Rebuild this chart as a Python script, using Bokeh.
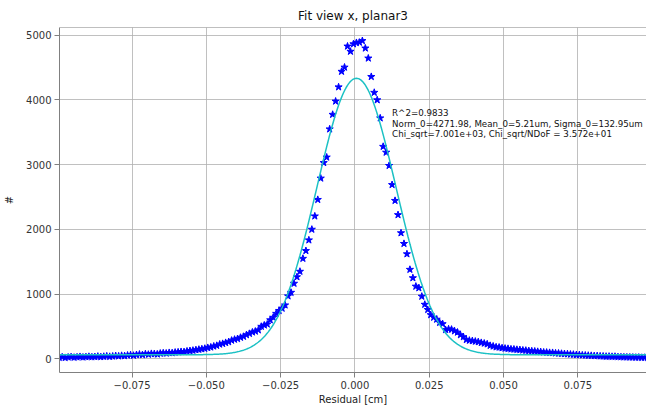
import numpy as np
from bokeh.plotting import figure
from bokeh.models import Range1d, FixedTicker, Label, Span
from bokeh.embed import file_html
from bokeh.resources import INLINE

# ---- data ----
bin_low = -0.1          # cm, first bin edge
bin_width = 0.001       # cm
counts_left = [20, 28, 18, 25, 30, 22, 27, 33, 25, 30,
               35, 28, 32, 38, 30, 36, 42, 35, 40, 47,
               42, 50, 46, 55, 60, 52, 63, 70, 62, 75,
               68, 80, 77, 72, 85, 90, 86, 95, 92, 100,
               104, 110, 108, 118, 125, 130, 138, 145, 152, 160,
               172, 180, 195, 205, 225, 235, 250, 262, 285, 300,
               310, 330, 345, 370, 390, 412, 425, 445, 500, 520,
               535, 600, 640, 700, 745, 780, 830, 970, 1025, 1165,
               1265, 1350, 1550, 1670, 1835, 2000, 2205, 2460, 2790, 3030,
               3115, 3550, 3775, 3980, 4200, 4440, 4505, 4830, 4750, 4865]
counts_right = [4885, 4890, 4915, 4800, 4645, 4360, 4115, 4000, 3720, 3280,
                3190, 2985, 2690, 2445, 2225, 1945, 1780, 1620, 1380, 1250,
                1120, 1095, 965, 840, 760, 680, 640, 610, 560, 540,
                450, 460, 455, 430, 410, 370, 340, 295, 285, 278,
                270, 262, 250, 240, 228, 205, 195, 182, 178, 168,
                162, 158, 150, 148, 143, 140, 133, 130, 124, 120,
                117, 112, 108, 102, 100, 96, 95, 88, 86, 82,
                78, 75, 70, 68, 63, 62, 57, 55, 52, 50,
                46, 46, 42, 40, 37, 38, 35, 36, 30, 28,
                27, 26, 25, 24, 22, 23, 20, 21, 18, 19]
counts = counts_left + counts_right

fit_norm = 4271.98
fit_mean_um = 5.21
fit_sigma_um = 132.95
fit_const = 63.0

x_ticks = [-0.075, -0.050, -0.025, 0.0, 0.025, 0.050, 0.075]
x_tick_labels = ["\u22120.075", "\u22120.050", "\u22120.025", "0.000", "0.025", "0.050", "0.075"]
y_ticks = [0, 1000, 2000, 3000, 4000, 5000]

info_lines = ["R^2=0.9833",
              "Norm_0=4271.98, Mean_0=5.21um, Sigma_0=132.95um",
              "Chi_sqrt=7.001e+03, Chi_sqrt/NDoF = 3.572e+01"]

# ---- derived ----
n_bins = len(counts)
centers = bin_low + bin_width * (np.arange(n_bins) + 0.5)
xf = np.linspace(bin_low, bin_low + bin_width * n_bins, 600)
mu = fit_mean_um * 1e-4
sg = fit_sigma_um * 1e-4
yf = fit_norm * np.exp(-0.5 * ((xf - mu) / sg) ** 2) + fit_const

FONT = "DejaVu Sans"

p = figure(width=646, height=407, output_backend="svg", toolbar_location=None,
           x_range=Range1d(-0.0994, 0.0981), y_range=Range1d(-211, 5120),
           min_border_left=59, min_border_right=0, min_border_top=27, min_border_bottom=34,
           title="Fit view x, planar3")
p.title.align = "center"
p.title.text_font = FONT
p.title.text_font_size = "12px"
p.title.text_font_style = "normal"
p.title.text_color = "#111111"

p.background_fill_color = "white"
p.border_fill_color = "white"
p.outline_line_color = None

for ax in (p.xaxis[0], p.yaxis[0]):
    ax.axis_line_color = "#808080"
    ax.major_tick_line_color = "#808080"
    ax.major_tick_out = 5
    ax.major_tick_in = 0
    ax.minor_tick_line_color = None
    ax.major_label_text_font = FONT
    ax.major_label_text_font_size = "10px"
    ax.major_label_text_color = "#333333"
    ax.axis_label_text_font = FONT
    ax.axis_label_text_font_size = "10px"
    ax.axis_label_text_font_style = "normal"
    ax.axis_label_text_color = "#222222"
    ax.major_label_standoff = 3

p.xaxis.ticker = FixedTicker(ticks=x_ticks)
p.xaxis.major_label_overrides = {t: l for t, l in zip(x_ticks, x_tick_labels)}
p.xaxis.axis_label = "Residual [cm]"
p.xaxis.axis_label_standoff = 2
p.yaxis.ticker = FixedTicker(ticks=y_ticks)
p.yaxis.axis_label = "#"
p.yaxis.axis_label_standoff = 8

p.grid.grid_line_color = "#b0b0b0"
p.grid.grid_line_width = 0.8

# top border of the frame
p.add_layout(Span(location=5120, dimension="width", line_color="#808080", line_width=1))

p.scatter(centers, counts, marker="star", size=7.5, fill_color="blue", line_color="blue")
p.line(xf, yf, line_color="#1cc1c4", line_width=1.5)

info_y = [3795, 3633, 3472]
for txt, yy in zip(info_lines, info_y):
    p.add_layout(Label(x=0.0125, y=yy, text=txt, text_font=FONT, text_font_size="8.7px",
                       text_baseline="middle", text_color="#111111"))

open("out.html", "w").write(file_html(p, INLINE))
